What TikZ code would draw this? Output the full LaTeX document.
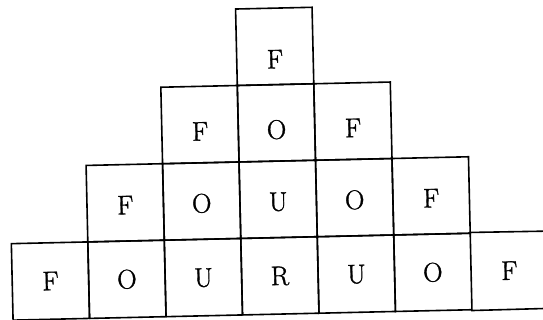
\documentclass[tikz,border=0pt]{standalone}
\usepackage{fontspec}
\newfontfamily\cellfont{Latin Modern Roman}[FakeBold=1.2]
\begin{document}
\begin{tikzpicture}[x=1pt,y=1pt,
  cell/.style={draw, line width=1.6pt, minimum width=76.5pt, minimum height=76.5pt,
    inner sep=0pt, text depth=0pt, text height=18.4pt, font=\cellfont\fontsize{27}{32}\selectfont},
  opencell/.style={cell, draw=none},
  rowa/.style={text height=44pt},
  rowb/.style={text height=32pt},
  rowc/.style={text height=23pt},
  edge/.style={line width=1.6pt}]
\useasboundingbox (0,0) rectangle (543,320);
\clip (0,0) rectangle (543,320);
\begin{scope}[rotate around={1.3:(271.5,160)}, transform shape]
% row 1
\node[cell,rowa] (r1c3) at (277.25,273.5) {F};
% row 2
\node[cell,rowb] (r2c2) at (200.75,197) {F};
\node[cell,rowb] (r2c3) at (277.25,197) {O};
\node[cell,rowb] (r2c4) at (353.75,197) {F};
% row 3
\node[cell,rowc] (r3c1) at (124.25,120.5) {F};
\node[cell,rowc] (r3c2) at (200.75,120.5) {O};
\node[cell,rowc] (r3c3) at (277.25,120.5) {U};
\node[cell,rowc] (r3c4) at (353.75,120.5) {O};
\node[cell,rowc] (r3c5) at (430.25,120.5) {F};
% row 4
\node[cell] (r4c0) at (47.75,44) {F};
\node[cell] (r4c1) at (124.25,44) {O};
\node[cell] (r4c2) at (200.75,44) {U};
\node[cell] (r4c3) at (277.25,44) {R};
\node[cell] (r4c4) at (353.75,44) {U};
\node[cell] (r4c5) at (430.25,44) {O};
\node[opencell] (r4c6) at (506.75,44) {F};
\coordinate (topend) at (620,82.25);
\coordinate (botend) at (620,5.75);
\draw[edge] (r4c6.north west) -- (topend);
\draw[edge] (r4c6.south west) -- (botend);
\end{scope}
\end{tikzpicture}
\end{document}
